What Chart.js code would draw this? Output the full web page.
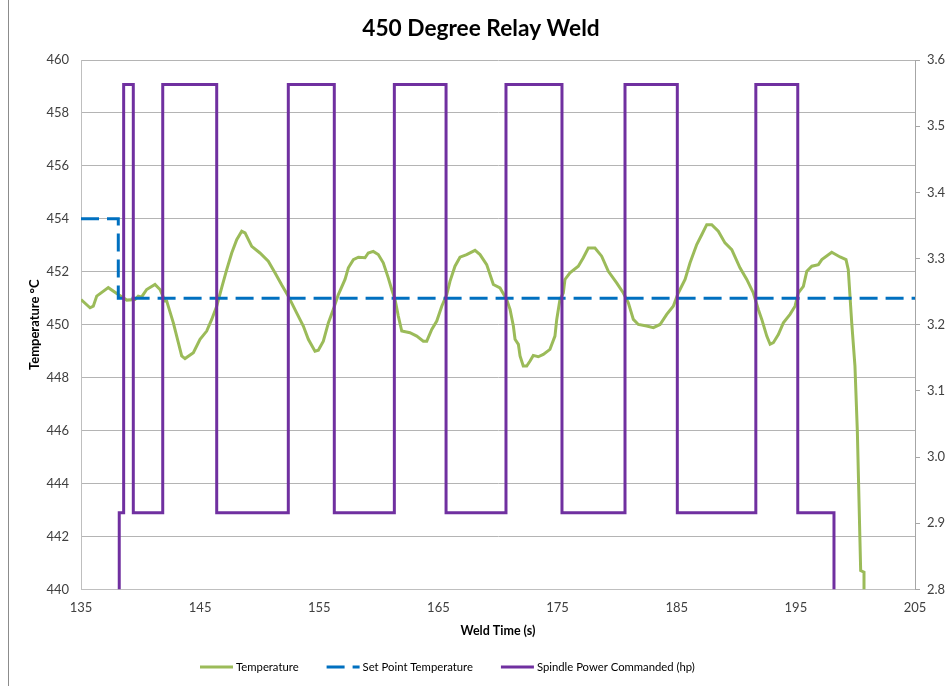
<!DOCTYPE html>
<html>
<head>
<meta charset="utf-8">
<title>450 Degree Relay Weld</title>
<script src="https://cdn.jsdelivr.net/npm/chart.js@4.4.1/dist/chart.umd.min.js"></script>
<style>
  html, body { margin: 0; padding: 0; background: #ffffff; }
  #wrap { position: relative; width: 948px; height: 686px; overflow: hidden; }
  #frame { position: absolute; left: 8px; top: -2px; width: 960px; height: 720px; border: 1px solid #8c8c8c; box-sizing: border-box; pointer-events: none; }
  canvas { position: absolute; left: 0; top: 0; }
</style>
</head>
<body>
<div id="wrap">
  <canvas id="weld" width="948" height="686"></canvas>
  <div id="frame"></div>
</div>
<script>
// Weld time (s) and measured temperature (°C)
const tempTimes = [
  135.00, 135.76, 136.03, 136.32, 137.29, 138.13, 138.84, 139.53, 139.81, 140.09,
  140.51, 141.21, 141.63, 142.05, 142.19, 142.75, 143.17, 143.45, 143.73, 144.43,
  144.99, 145.55, 145.97, 146.39, 146.81, 147.23, 147.65, 148.07, 148.49, 148.77,
  149.33, 150.02, 150.72, 151.28, 151.85, 152.40, 153.10, 153.66, 154.08, 154.64,
  154.92, 155.34, 155.76, 156.18, 156.60, 157.16, 157.44, 157.86, 158.28, 158.84,
  159.11, 159.53, 159.95, 160.37, 160.79, 161.08, 161.36, 161.63, 161.92, 162.61,
  163.18, 163.73, 164.02, 164.44, 164.86, 165.28, 165.70, 165.97, 166.39, 166.81,
  167.37, 168.07, 168.49, 169.05, 169.61, 170.17, 170.73, 171.01, 171.29, 171.43,
  171.71, 171.85, 172.12, 172.41, 172.69, 172.96, 173.38, 173.80, 174.36, 174.78,
  174.93, 175.20, 175.48, 175.62, 176.04, 176.74, 177.16, 177.58, 178.14, 178.70,
  179.26, 179.96, 180.52, 180.94, 181.36, 181.78, 182.48, 183.04, 183.60, 184.16,
  184.71, 185.13, 185.70, 186.12, 186.68, 187.10, 187.52, 187.94, 188.49, 189.05,
  189.62, 190.31, 190.88, 191.43, 191.85, 192.14, 192.56, 192.84, 193.11, 193.53,
  193.95, 194.51, 194.93, 195.21, 195.63, 195.92, 196.34, 196.89, 197.18, 198.01,
  198.71, 199.21, 199.40, 199.69, 199.96, 200.16, 200.44, 200.72, 200.72
];
const tempValues = [
  450.95, 450.64, 450.70, 451.08, 451.40, 451.14, 450.93, 450.95, 451.08, 451.05,
  451.33, 451.52, 451.33, 450.90, 450.90, 450.07, 449.32, 448.82, 448.72, 448.94,
  449.45, 449.76, 450.20, 450.70, 451.40, 452.08, 452.71, 453.21, 453.53, 453.47,
  452.96, 452.71, 452.40, 451.96, 451.50, 451.08, 450.45, 449.95, 449.45, 449.00,
  449.04, 449.38, 450.07, 450.58, 451.14, 451.71, 452.15, 452.46, 452.55, 452.53,
  452.71, 452.77, 452.65, 452.34, 451.77, 451.33, 450.95, 450.33, 449.76, 449.70,
  449.57, 449.38, 449.38, 449.82, 450.14, 450.70, 451.14, 451.64, 452.21, 452.55,
  452.65, 452.81, 452.65, 452.27, 451.52, 451.39, 450.95, 450.58, 449.95, 449.45,
  449.26, 448.82, 448.44, 448.44, 448.63, 448.84, 448.79, 448.88, 449.07, 449.57,
  450.20, 450.95, 451.20, 451.71, 451.96, 452.21, 452.53, 452.90, 452.90, 452.59,
  452.02, 451.58, 451.20, 450.83, 450.20, 450.01, 449.95, 449.89, 450.01, 450.39,
  450.70, 451.20, 451.71, 452.34, 453.03, 453.40, 453.78, 453.78, 453.53, 453.09,
  452.84, 452.15, 451.71, 451.20, 450.58, 450.20, 449.57, 449.26, 449.32, 449.63,
  450.07, 450.39, 450.70, 451.20, 451.45, 452.02, 452.21, 452.27, 452.46, 452.74,
  452.56, 452.46, 452.08, 450.07, 448.44, 445.99, 440.71, 440.65, 440.00
];

// Set point temperature (°C): step from 454 down to 451
const setTimes = [135.00, 138.13, 205.00];
const setValues = [454, 451, 451];

// Spindle power commanded (hp): each entry is the level switched to at that time
const powerTimes = [
  138.21, 138.21, 138.58, 139.39, 141.86, 146.39, 152.40, 156.26, 161.30, 165.64,
  170.67, 175.37, 180.66, 185.05, 191.64, 195.16, 198.20
];
const powerValues = [
  2.800, 2.916, 3.563, 2.916, 3.563, 2.916, 3.563, 2.916, 3.563, 2.916,
  3.563, 2.916, 3.563, 2.916, 3.563, 2.916, 2.800
];

// Axis ranges and tick steps
const timeTicks = { min: 135, max: 205, step: 10 };
const tempTicks = { min: 440, max: 460, step: 2 };
const powerTicks = { min: 2.8, max: 3.6, step: 0.1 };

const toPoints = (xs, ys) => xs.map((x, i) => ({ x: x, y: ys[i] }));

const uiFont = 'Lato, "Open Sans", "DejaVu Sans", sans-serif';
const tickColor = '#404040';

// Legend row along the bottom: a line sample in each series' stroke, then its label
const seriesKey = {
  id: 'seriesKey',
  afterDraw(chart, args, opts) {
    const ctx = chart.ctx;
    ctx.save();
    ctx.font = opts.fontSize + 'px ' + uiFont;
    ctx.textBaseline = 'middle';
    ctx.textAlign = 'left';
    let x = opts.left;
    const y = opts.y;
    chart.data.datasets.forEach((ds) => {
      ctx.beginPath();
      ctx.strokeStyle = ds.borderColor;
      ctx.lineWidth = ds.borderWidth;
      ctx.setLineDash(ds.borderDash || []);
      ctx.moveTo(x, y);
      ctx.lineTo(x + opts.sample, y);
      ctx.stroke();
      ctx.setLineDash([]);
      ctx.fillStyle = '#000000';
      const tx = x + opts.sample + opts.gap;
      ctx.fillText(ds.label, tx, y + 0.5);
      x = tx + ctx.measureText(ds.label).width + opts.spacing;
    });
    ctx.restore();
  }
};

// Centres the chart title over the framed panel, which starts a few pixels in from the left
const titleOffset = {
  id: 'titleOffset',
  afterLayout(chart, args, opts) {
    const tb = chart.titleBlock;
    if (tb) { tb.left += opts.dx; tb.right += opts.dx; }
  }
};

new Chart(document.getElementById('weld'), {
  type: 'line',
  data: {
    datasets: [
      {
        label: 'Temperature',
        data: toPoints(tempTimes, tempValues),
        borderColor: '#9BBB59',
        backgroundColor: '#9BBB59',
        borderWidth: 3,
        pointRadius: 0,
        tension: 0,
        yAxisID: 'y',
        order: 3
      },
      {
        label: 'Set Point Temperature',
        data: toPoints(setTimes, setValues),
        borderColor: '#0070C0',
        backgroundColor: '#0070C0',
        borderWidth: 3,
        borderDash: [18, 8],
        pointRadius: 0,
        stepped: 'before',
        yAxisID: 'y',
        order: 2
      },
      {
        label: 'Spindle Power Commanded (hp)',
        data: toPoints(powerTimes, powerValues),
        borderColor: '#7030A0',
        backgroundColor: '#7030A0',
        borderWidth: 3,
        pointRadius: 0,
        stepped: 'before',
        yAxisID: 'y1',
        order: 1
      }
    ]
  },
  options: {
    responsive: false,
    animation: false,
    devicePixelRatio: 1,
    events: [],
    layout: { padding: { left: 0, right: 0, top: 0, bottom: 48 } },
    plugins: {
      title: {
        display: true,
        text: '450 Degree Relay Weld',
        color: '#000000',
        font: { family: uiFont, size: 22.7, weight: 'bold' },
        padding: { top: 15, bottom: 17.8 }
      },
      legend: { display: false },
      tooltip: { enabled: false },
      titleOffset: { dx: 7 },
      seriesKey: { left: 200, y: 667, sample: 33, gap: 3, spacing: 28, fontSize: 11.3 }
    },
    scales: {
      x: {
        type: 'linear',
        min: timeTicks.min,
        max: timeTicks.max,
        ticks: {
          stepSize: timeTicks.step,
          color: tickColor,
          padding: 11,
          font: { family: uiFont, size: 13 }
        },
        grid: { display: false, drawTicks: false },
        border: { display: true, color: '#bfbfbf', width: 1 },
        title: {
          display: true,
          text: 'Weld Time (s)',
          color: '#000000',
          font: { family: uiFont, size: 12.5, weight: 'bold' },
          padding: { top: -4, bottom: 0 }
        }
      },
      y: {
        position: 'left',
        min: tempTicks.min,
        max: tempTicks.max,
        ticks: {
          stepSize: tempTicks.step,
          color: tickColor,
          padding: 12,
          font: { family: uiFont, size: 13 }
        },
        grid: { color: '#b4b4b4', lineWidth: 1, drawTicks: false },
        border: { display: true, color: '#bfbfbf', width: 1 },
        title: {
          display: true,
          text: 'Temperature °C',
          color: '#000000',
          font: { family: uiFont, size: 13, weight: 'bold' },
          padding: { top: 27, bottom: 0 }
        },
        afterFit(scale) { scale.width = 81; }
      },
      y1: {
        position: 'right',
        min: powerTicks.min,
        max: powerTicks.max,
        ticks: {
          stepSize: powerTicks.step,
          color: tickColor,
          padding: 7,
          font: { family: uiFont, size: 13 },
          callback: (v) => Number(v).toFixed(1)
        },
        grid: { drawOnChartArea: false, drawTicks: true, tickLength: 5, color: '#a6a6a6' },
        border: { display: true, color: '#a6a6a6', width: 1 },
        afterFit(scale) { scale.width = 33; }
      }
    }
  },
  plugins: [seriesKey, titleOffset]
});
</script>
</body>
</html>
